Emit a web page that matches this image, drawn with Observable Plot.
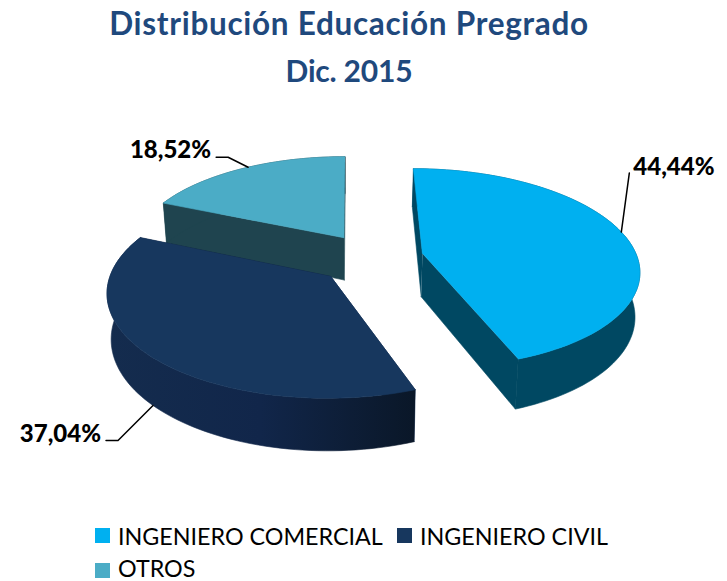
<!DOCTYPE html>
<html><head><meta charset="utf-8">
<script src="https://cdn.jsdelivr.net/npm/d3@7"></script>
<script src="https://cdn.jsdelivr.net/npm/@observablehq/plot@0.6"></script>
<style>
html,body{margin:0;padding:0;background:#fff;width:727px;height:581px;overflow:hidden}
#title{height:100px;text-align:center;color:#1f497d;font:bold 31.5px/47px Lato,sans-serif;letter-spacing:.7px;box-sizing:border-box;width:698px}
#title div{height:47px}
#title div+div{font-size:30px;letter-spacing:-.2px}
#chart{height:410px}
#chart svg{display:block}
#legend{position:relative;height:71px;font:23.3px/22px Lato,sans-serif;color:#000}
.k{position:absolute;width:15px;height:15px}
.t{position:absolute;white-space:nowrap}
</style></head><body>
<div id="title"><div>Distribución Educación Pregrado</div><div>Dic. 2015</div></div>
<div id="chart"></div>
<div id="legend"></div>
<script>
// Data
const categories = ["INGENIERO COMERCIAL", "INGENIERO CIVIL", "OTROS"];
const shares = [44.44, 37.04, 18.52];
const shareLabels = ["44,44%", "37,04%", "18,52%"];

// Styling and 3D layout of the exploded pie
const topColors = ["#00b0f0", "#17375e", "#4bacc6"];
const wallColors = ["#004862", "#11284a", "#1f444f"];
const arcWallFills = ["#004862", "url(#civilWall)", "#1f444f"];
const explode = [[0.337, 0.267], [-0.09, 0.04], [-0.03, 0.433]];
const leaderFraction = [0.48, 0.5, 0.53];
const leaderOnBottom = [false, true, false];
const leaderBends = [[[8, -59]], [[-35, 35], [-47, 35]], [[-20, -10], [-32, -10]]];
const labelOffset = [[4, -6], [-5, -6], [-5, -7]];
const labelAnchor = ["start", "end", "end"];
const view = {xv: 350, yv: -420, A: 222, B: 700, p: 0.15, h: 45, squeeze: 0.983};
const drawOrder = [2, 1, 0];

function project(x, y, bottom) {
  const s = 1 / (1 + view.p * y);
  let X = view.xv + view.A * x * s;
  let Y = view.yv + view.B * s;
  if (bottom) { X = view.xv + (X - view.xv) * view.squeeze; Y += view.h * s; }
  return {x: X, y: Y};
}

const arcs = d3.pie().sort(null).value(d => d)(shares);
function pt(i, a, r, bottom) {
  const [ox, oy] = explode[i];
  return project(ox + r * Math.sin(a), oy + r * Math.cos(a), bottom);
}
function arcAngles(i) {
  const {startAngle: a0, endAngle: a1} = arcs[i];
  const n = Math.ceil((a1 - a0) / 0.03);
  return d3.range(n + 1).map(k => a0 + (a1 - a0) * k / n);
}

const marks = [
  () => {
    const defs = d3.create("svg:defs");
    const g = defs.append("linearGradient").attr("id", "civilWall").attr("x1", 0).attr("x2", 1).attr("y1", 0).attr("y2", 0);
    g.append("stop").attr("offset", "0%").attr("stop-color", "#142c4e");
    g.append("stop").attr("offset", "50%").attr("stop-color", "#11264a");
    g.append("stop").attr("offset", "100%").attr("stop-color", "#0a1728");
    return defs.node();
  }
];
const poly = (pts, color) => Plot.line(pts, {x: "x", y: "y", fill: color, stroke: color, strokeWidth: 0.6, curve: "linear"});

for (const i of drawOrder) {
  const as = arcAngles(i);
  const a0 = as[0], a1 = as[as.length - 1];
  // radial walls
  for (const a of [a0, a1]) {
    marks.push(poly([pt(i, a, 0, false), pt(i, a, 1, false), pt(i, a, 1, true), pt(i, a, 0, true)], wallColors[i]));
  }
  // outer wall
  marks.push(poly([...as.map(a => pt(i, a, 1, false)), ...as.slice().reverse().map(a => pt(i, a, 1, true))], arcWallFills[i]));
  // top
  marks.push(poly([pt(i, a0, 0, false), ...as.map(a => pt(i, a, 1, false))], topColors[i]));
}

// Leaders and labels
const labelRows = [];
shares.forEach((v, i) => {
  const a = arcs[i].startAngle + (arcs[i].endAngle - arcs[i].startAngle) * leaderFraction[i];
  const s = pt(i, a, 1, leaderOnBottom[i]);
  const path = [s, ...leaderBends[i].map(([dx, dy]) => ({x: s.x + dx, y: s.y + dy}))];
  marks.push(Plot.line(path, {x: "x", y: "y", stroke: "#000", strokeWidth: 1.5, curve: "linear"}));
  const e = path[path.length - 1];
  labelRows.push({x: e.x + labelOffset[i][0], y: e.y + labelOffset[i][1], label: shareLabels[i], anchor: labelAnchor[i]});
});
for (const anchor of ["start", "end"]) {
  marks.push(Plot.text(labelRows.filter(d => d.anchor === anchor), {
    x: "x", y: "y", text: "label", textAnchor: anchor, fill: "#000",
    fontSize: 24, fontWeight: 900, fontFamily: "Lato, sans-serif"
  }));
}

const plot = Plot.plot({
  width: 727, height: 410, margin: 0,
  x: {domain: [0, 727], range: [0, 727], axis: null},
  y: {domain: [100, 510], range: [0, 410], axis: null},
  marks
});
document.getElementById("chart").append(plot);

// Legend
const legendPos = [[95, 118, 15, 18], [397, 420, 15, 18], [95, 118, 47, 53]];
const lg = document.getElementById("legend");
categories.forEach((c, i) => {
  const [kx, tx, ty, ky] = legendPos[i];
  const k = document.createElement("div"); k.className = "k";
  k.style.cssText = `left:${kx}px;top:${ky}px;background:${topColors[i]}`;
  const t = document.createElement("div"); t.className = "t"; t.textContent = c;
  t.style.cssText = `left:${tx}px;top:${ty}px`;
  lg.append(k, t);
});
</script>
</body></html>
